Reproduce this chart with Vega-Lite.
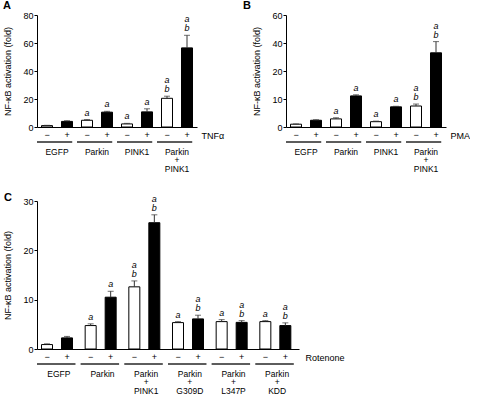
{
  "$schema": "https://vega.github.io/schema/vega-lite/v6.json",
  "padding": {"left": 2, "top": 0, "right": 0, "bottom": 0},
  "datasets": {
    "A": [
      {"group": "EGFP", "trt": "−", "mean": 1.0, "err": 1.2, "sigLow": "", "sigHigh": ""},
      {"group": "EGFP", "trt": "+", "mean": 4.0, "err": 4.5, "sigLow": "", "sigHigh": ""},
      {"group": "Parkin", "trt": "−", "mean": 4.8, "err": 5.3, "sigLow": "a", "sigHigh": ""},
      {"group": "Parkin", "trt": "+", "mean": 10.6, "err": 11.2, "sigLow": "a", "sigHigh": ""},
      {"group": "PINK1", "trt": "−", "mean": 2.2, "err": 2.6, "sigLow": "a", "sigHigh": ""},
      {"group": "PINK1", "trt": "+", "mean": 10.8, "err": 13.0, "sigLow": "a", "sigHigh": ""},
      {"group": "Parkin|+|PINK1", "trt": "−", "mean": 20.5, "err": 22.0, "sigLow": "b", "sigHigh": "a"},
      {"group": "Parkin|+|PINK1", "trt": "+", "mean": 56.5, "err": 65.5, "sigLow": "b", "sigHigh": "a"}
    ],
    "B": [
      {"group": "EGFP", "trt": "−", "mean": 1.0, "err": 1.1, "sigLow": "", "sigHigh": ""},
      {"group": "EGFP", "trt": "+", "mean": 2.4, "err": 2.6, "sigLow": "", "sigHigh": ""},
      {"group": "Parkin", "trt": "−", "mean": 2.9, "err": 3.3, "sigLow": "a", "sigHigh": ""},
      {"group": "Parkin", "trt": "+", "mean": 11.1, "err": 11.5, "sigLow": "a", "sigHigh": ""},
      {"group": "PINK1", "trt": "−", "mean": 1.9, "err": 2.1, "sigLow": "a", "sigHigh": ""},
      {"group": "PINK1", "trt": "+", "mean": 7.2, "err": 7.4, "sigLow": "a", "sigHigh": ""},
      {"group": "Parkin|+|PINK1", "trt": "−", "mean": 7.5, "err": 8.2, "sigLow": "b", "sigHigh": "a"},
      {"group": "Parkin|+|PINK1", "trt": "+", "mean": 33.0, "err": 41.0, "sigLow": "b", "sigHigh": "a"}
    ],
    "C": [
      {"group": "EGFP", "trt": "−", "mean": 0.9, "err": 1.05, "sigLow": "", "sigHigh": ""},
      {"group": "EGFP", "trt": "+", "mean": 2.25, "err": 2.55, "sigLow": "", "sigHigh": ""},
      {"group": "Parkin", "trt": "−", "mean": 4.75, "err": 5.1, "sigLow": "a", "sigHigh": ""},
      {"group": "Parkin", "trt": "+", "mean": 10.5, "err": 11.7, "sigLow": "a", "sigHigh": ""},
      {"group": "Parkin|+|PINK1", "trt": "−", "mean": 12.6, "err": 13.8, "sigLow": "b", "sigHigh": "a"},
      {"group": "Parkin|+|PINK1", "trt": "+", "mean": 25.6, "err": 27.2, "sigLow": "b", "sigHigh": "a"},
      {"group": "Parkin|+|G309D", "trt": "−", "mean": 5.35, "err": 5.55, "sigLow": "a", "sigHigh": ""},
      {"group": "Parkin|+|G309D", "trt": "+", "mean": 6.1, "err": 6.85, "sigLow": "b", "sigHigh": "a"},
      {"group": "Parkin|+|L347P", "trt": "−", "mean": 5.55, "err": 5.95, "sigLow": "a", "sigHigh": ""},
      {"group": "Parkin|+|L347P", "trt": "+", "mean": 5.4, "err": 5.75, "sigLow": "b", "sigHigh": "a"},
      {"group": "Parkin|+|KDD", "trt": "−", "mean": 5.55, "err": 5.75, "sigLow": "a", "sigHigh": ""},
      {"group": "Parkin|+|KDD", "trt": "+", "mean": 4.75, "err": 5.3, "sigLow": "b", "sigHigh": "a"}
    ]
  },
  "vconcat": [
    {
      "hconcat": [
        {
          "title": {"text": "A", "anchor": "start", "frame": "bounds", "fontSize": 11, "fontWeight": "bold", "offset": 0, "dx": -1},
          "data": {"name": "A"},
          "width": 160,
          "height": 112,
          "encoding": {
            "x": {"field": "group", "type": "nominal", "sort": null,
              "scale": {"paddingInner": 0, "paddingOuter": 0},
              "axis": {"title": "TNFα", "titleX": 164, "titleY": 8, "titleAlign": "left", "titleBaseline": "middle", "titleAngle": 0}},
            "xOffset": {"field": "trt", "type": "nominal", "sort": ["−", "+"], "scale": {"paddingInner": 0.45, "paddingOuter": 0.225}}
          },
          "layer": [
            {"mark": {"type": "bar", "stroke": "black", "strokeWidth": 1},
              "encoding": {
                "y": {"field": "mean", "type": "quantitative", "scale": {"domain": [0, 80], "nice": false},
                  "axis": {"title": "NF-κB activation (fold)", "values": [0, 20, 40, 60, 80], "tickCount": 20}},
                "fill": {"field": "trt", "type": "nominal", "scale": {"domain": ["−", "+"], "range": ["white", "black"]}, "legend": null}
              }},
            {"mark": {"type": "rule", "color": "#333", "strokeWidth": 1},
              "encoding": {"y": {"field": "mean", "type": "quantitative", "axis": {"title": "NF-κB activation (fold)", "values": [0, 20, 40, 60, 80], "tickCount": 20}}, "y2": {"field": "err"}}},
            {"mark": {"type": "tick", "orient": "horizontal", "color": "#333", "thickness": 1, "size": 6},
              "encoding": {"y": {"field": "err", "type": "quantitative", "axis": {"title": "NF-κB activation (fold)", "values": [0, 20, 40, 60, 80], "tickCount": 20}}}},
            {"mark": {"type": "text", "baseline": "bottom", "dy": -2, "fontStyle": "italic", "fontSize": 9, "fill": "black"},
              "encoding": {"y": {"field": "err", "type": "quantitative", "axis": {"title": "NF-κB activation (fold)", "values": [0, 20, 40, 60, 80], "tickCount": 20}}, "text": {"field": "sigLow"}}},
            {"mark": {"type": "text", "baseline": "bottom", "dy": -11, "fontStyle": "italic", "fontSize": 9, "fill": "black"},
              "encoding": {"y": {"field": "err", "type": "quantitative", "axis": {"title": "NF-κB activation (fold)", "values": [0, 20, 40, 60, 80], "tickCount": 20}}, "text": {"field": "sigHigh"}}},
            {"mark": {"type": "text", "baseline": "middle", "dy": 8, "fontSize": 9, "fill": "black"},
              "encoding": {"y": {"datum": 0, "axis": {"title": "NF-κB activation (fold)", "values": [0, 20, 40, 60, 80], "tickCount": 20}}, "text": {"field": "trt"}}},
            {"mark": {"type": "rule", "color": "black", "strokeWidth": 0.8, "yOffset": 15},
              "encoding": {"x": {"field": "group", "type": "nominal", "sort": null, "bandPosition": 0.08}, "x2": {"field": "group", "bandPosition": 0.88}, "xOffset": {"value": 0}, "y": {"datum": 0, "axis": {"title": "NF-κB activation (fold)", "values": [0, 20, 40, 60, 80], "tickCount": 20}}}}
          ]
        },
        {
          "title": {"text": "B", "anchor": "start", "frame": "bounds", "fontSize": 11, "fontWeight": "bold", "offset": 0, "dx": -10},
          "data": {"name": "B"},
          "width": 160,
          "height": 112,
          "encoding": {
            "x": {"field": "group", "type": "nominal", "sort": null,
              "scale": {"paddingInner": 0, "paddingOuter": 0},
              "axis": {"title": "PMA", "titleX": 164, "titleY": 8, "titleAlign": "left", "titleBaseline": "middle", "titleAngle": 0}},
            "xOffset": {"field": "trt", "type": "nominal", "sort": ["−", "+"], "scale": {"paddingInner": 0.45, "paddingOuter": 0.225}}
          },
          "layer": [
            {"mark": {"type": "bar", "stroke": "black", "strokeWidth": 1},
              "encoding": {
                "y": {"field": "mean", "type": "quantitative", "scale": {"domain": [0, 20, 60], "range": [112, 56, 0], "nice": false, "zero": false},
                  "axis": {"title": "NF-κB activation (fold)", "values": [0, 10, 20, 40, 60], "tickCount": 20}},
                "fill": {"field": "trt", "type": "nominal", "scale": {"domain": ["−", "+"], "range": ["white", "black"]}, "legend": null}
              }},
            {"mark": {"type": "rule", "color": "#333", "strokeWidth": 1},
              "encoding": {"y": {"field": "mean", "type": "quantitative", "axis": {"title": "NF-κB activation (fold)", "values": [0, 10, 20, 40, 60], "tickCount": 20}}, "y2": {"field": "err"}}},
            {"mark": {"type": "tick", "orient": "horizontal", "color": "#333", "thickness": 1, "size": 6},
              "encoding": {"y": {"field": "err", "type": "quantitative", "axis": {"title": "NF-κB activation (fold)", "values": [0, 10, 20, 40, 60], "tickCount": 20}}}},
            {"mark": {"type": "text", "baseline": "bottom", "dy": -2, "fontStyle": "italic", "fontSize": 9, "fill": "black"},
              "encoding": {"y": {"field": "err", "type": "quantitative", "axis": {"title": "NF-κB activation (fold)", "values": [0, 10, 20, 40, 60], "tickCount": 20}}, "text": {"field": "sigLow"}}},
            {"mark": {"type": "text", "baseline": "bottom", "dy": -11, "fontStyle": "italic", "fontSize": 9, "fill": "black"},
              "encoding": {"y": {"field": "err", "type": "quantitative", "axis": {"title": "NF-κB activation (fold)", "values": [0, 10, 20, 40, 60], "tickCount": 20}}, "text": {"field": "sigHigh"}}},
            {"mark": {"type": "text", "baseline": "middle", "dy": 8, "fontSize": 9, "fill": "black"},
              "encoding": {"y": {"datum": 0, "axis": {"title": "NF-κB activation (fold)", "values": [0, 10, 20, 40, 60], "tickCount": 20}}, "text": {"field": "trt"}}},
            {"mark": {"type": "rule", "color": "black", "strokeWidth": 0.8, "yOffset": 15},
              "encoding": {"x": {"field": "group", "type": "nominal", "sort": null, "bandPosition": 0.08}, "x2": {"field": "group", "bandPosition": 0.88}, "xOffset": {"value": 0}, "y": {"datum": 0, "axis": {"title": "NF-κB activation (fold)", "values": [0, 10, 20, 40, 60], "tickCount": 20}}}}
          ]
        }
      ]
    },
    {
      "title": {"text": "C", "anchor": "start", "frame": "bounds", "fontSize": 11, "fontWeight": "bold", "offset": -8, "dx": 0},
      "data": {"name": "C"},
      "width": 262,
      "height": 148,
      "encoding": {
        "x": {"field": "group", "type": "nominal", "sort": null,
          "scale": {"paddingInner": 0, "paddingOuter": 0},
          "axis": {"title": "Rotenone", "titleX": 268, "titleY": 8, "titleAlign": "left", "titleBaseline": "middle", "titleAngle": 0}},
        "xOffset": {"field": "trt", "type": "nominal", "sort": ["−", "+"], "scale": {"paddingInner": 0.46, "paddingOuter": 0.23}}
      },
      "layer": [
        {"mark": {"type": "bar", "stroke": "black", "strokeWidth": 1},
          "encoding": {
            "y": {"field": "mean", "type": "quantitative", "scale": {"domain": [0, 30], "nice": false},
              "axis": {"title": "NF-κB activation (fold)", "values": [0, 10, 20, 30], "tickCount": 20}},
            "fill": {"field": "trt", "type": "nominal", "scale": {"domain": ["−", "+"], "range": ["white", "black"]}, "legend": null}
          }},
        {"mark": {"type": "rule", "color": "#333", "strokeWidth": 1},
          "encoding": {"y": {"field": "mean", "type": "quantitative", "axis": {"title": "NF-κB activation (fold)", "values": [0, 10, 20, 30], "tickCount": 20}}, "y2": {"field": "err"}}},
        {"mark": {"type": "tick", "orient": "horizontal", "color": "#333", "thickness": 1, "size": 6},
          "encoding": {"y": {"field": "err", "type": "quantitative", "axis": {"title": "NF-κB activation (fold)", "values": [0, 10, 20, 30], "tickCount": 20}}}},
        {"mark": {"type": "text", "baseline": "bottom", "dy": -2, "fontStyle": "italic", "fontSize": 9, "fill": "black"},
          "encoding": {"y": {"field": "err", "type": "quantitative", "axis": {"title": "NF-κB activation (fold)", "values": [0, 10, 20, 30], "tickCount": 20}}, "text": {"field": "sigLow"}}},
        {"mark": {"type": "text", "baseline": "bottom", "dy": -11, "fontStyle": "italic", "fontSize": 9, "fill": "black"},
          "encoding": {"y": {"field": "err", "type": "quantitative", "axis": {"title": "NF-κB activation (fold)", "values": [0, 10, 20, 30], "tickCount": 20}}, "text": {"field": "sigHigh"}}},
        {"mark": {"type": "text", "baseline": "middle", "dy": 8, "fontSize": 9, "fill": "black"},
          "encoding": {"y": {"datum": 0, "axis": {"title": "NF-κB activation (fold)", "values": [0, 10, 20, 30], "tickCount": 20}}, "text": {"field": "trt"}}},
        {"mark": {"type": "rule", "color": "black", "strokeWidth": 0.8, "yOffset": 15},
          "encoding": {"x": {"field": "group", "type": "nominal", "sort": null, "bandPosition": 0.08}, "x2": {"field": "group", "bandPosition": 0.88}, "xOffset": {"value": 0}, "y": {"datum": 0, "axis": {"title": "NF-κB activation (fold)", "values": [0, 10, 20, 30], "tickCount": 20}}}}
      ]
    }
  ],
  "spacing": 18,
  "config": {
    "font": "Liberation Sans",
    "view": {"stroke": null},
    "concat": {"spacing": 18},
    "title": {"color": "black"},
    "text": {"color": "black", "font": "Liberation Sans"},
    "axisY": {"grid": false, "domainColor": "black", "tickColor": "black", "labelColor": "black", "titleColor": "black", "labelFontSize": 9, "titleFontSize": 9, "titleFontWeight": "normal", "tickSize": 3, "labelPadding": 1, "titlePadding": 10, "labelOverlap": false},
    "axisX": {"grid": false, "domainColor": "black", "ticks": false, "tickSize": 0, "labelAngle": 0, "labelColor": "black", "labelFontWeight": "normal", "titleColor": "black", "labelFontSize": 8.5, "labelLineHeight": 8.5, "labelBaseline": "top", "labelPadding": 20, "labelExpr": "split(datum.label, '|')", "titleFontSize": 9, "titleFontWeight": "normal", "labelOverlap": false}
  }
}
